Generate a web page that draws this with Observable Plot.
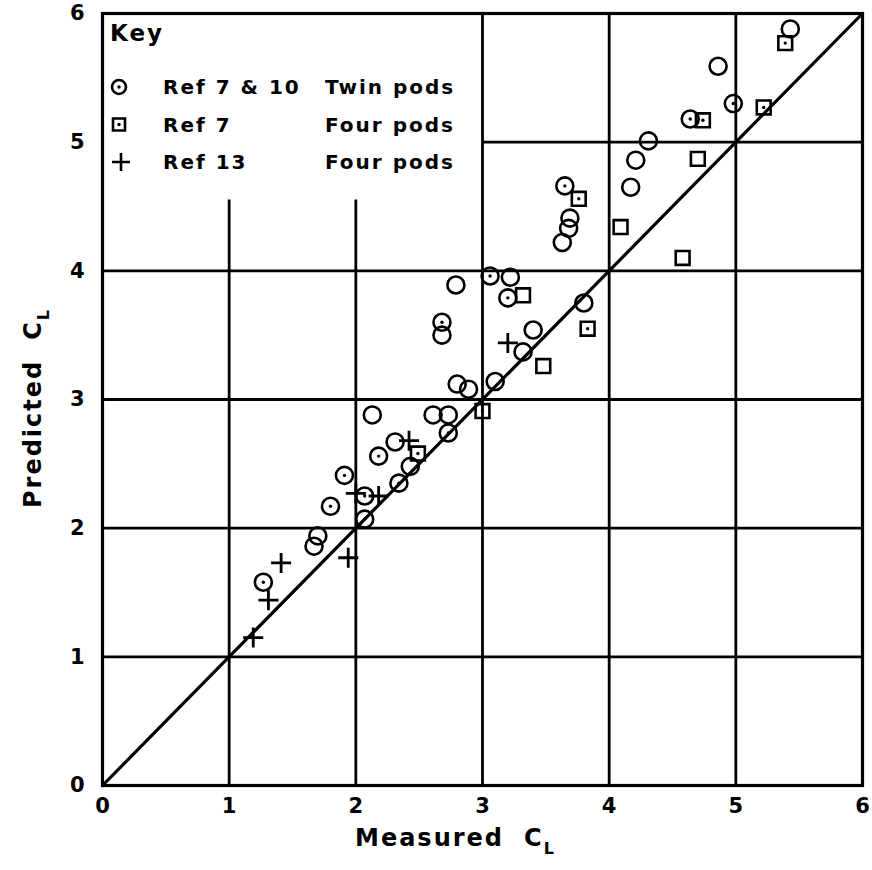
<!DOCTYPE html>
<html><head><meta charset="utf-8">
<script src="https://cdn.jsdelivr.net/npm/d3@7"></script>
<script src="https://cdn.jsdelivr.net/npm/@observablehq/plot@0.6"></script>
<style>
body{margin:0;background:#fff;}
#chart{position:absolute;left:0;top:0;}
</style></head><body><div id="chart"></div>
<script>
// Ref 7 & 10, twin pods (circles); dotted = has centre dot
const circleX = [1.27,1.70,1.67,1.80,1.91,2.07,2.07,2.13,2.18,2.31,2.34,2.43,2.61,2.73,2.73,2.68,2.68,2.79,2.80,2.89,3.10,3.06,3.22,3.20,3.40,3.32,3.80,3.63,3.68,3.69,3.65,4.17,4.21,4.31,4.64,4.86,4.98,5.43];
const circleY = [1.58,1.94,1.86,2.17,2.41,2.07,2.25,2.88,2.56,2.67,2.35,2.48,2.88,2.88,2.74,3.60,3.50,3.89,3.12,3.08,3.14,3.96,3.95,3.79,3.54,3.37,3.75,4.22,4.33,4.41,4.66,4.65,4.86,5.01,5.18,5.59,5.30,5.88];
const circleDotted = [1,0,0,1,1,1,1,0,1,0,1,0,0,0,1,1,0,0,0,0,0,1,0,1,0,0,0,0,0,0,1,0,0,0,1,0,1,0];
// Ref 7, four pods (squares)
const squareX = [2.49,3.00,3.32,3.48,3.83,3.76,4.09,4.58,4.70,4.74,5.22,5.39];
const squareY = [2.58,2.91,3.81,3.26,3.55,4.56,4.34,4.10,4.87,5.17,5.27,5.77];
const squareDotted = [1,1,0,0,1,1,0,0,0,1,1,1];
// Ref 13, four pods (plus)
const plusX = [1.19,1.31,1.41,1.94,2.00,2.18,2.42,3.20];
const plusY = [1.15,1.44,1.73,1.77,2.27,2.25,2.68,3.44];

const tickValues = [0,1,2,3,4,5,6];
const diagonal = [0,6];
const legendSymbols = ["circle","square","plus"];
const legendRefs = ["Ref 7 & 10","Ref 7","Ref 13"];
const legendPods = ["Twin pods","Four pods","Four pods"];
const keyTitle = "Key";
const xLabel = ["Measured","C","L"];
const yLabel = ["Predicted","C","L"];

const circles = circleX.map((x,i)=>({x, y:circleY[i], dot:circleDotted[i]}));
const squares = squareX.map((x,i)=>({x, y:squareY[i], dot:squareDotted[i]}));
const pluses = plusX.map((x,i)=>({x, y:plusY[i]}));
const diag = diagonal.map(v=>({x:v, y:v}));

const SW = 2.8;
const plot = Plot.plot({
  width:872, height:870,
  marginLeft:102, marginRight:10, marginTop:13, marginBottom:85,
  style:{fontFamily:"DejaVu Sans", fontSize:"21px", fontWeight:"bold", color:"#000", background:"#fff", overflow:"visible"},
  x:{domain:[0,6], ticks:tickValues, tickSize:0, tickPadding:13, label:null, tickFormat:d=>String(d)},
  y:{domain:[0,6], ticks:tickValues, tickSize:0, tickPadding:18, label:null, tickFormat:d=>String(d)},
  marks:[
    // grid (cut around the key box)
    Plot.ruleX([1,2], {y1:0, y2:4.55, stroke:"black", strokeWidth:SW}),
    Plot.ruleX([3,4,5], {y1:0, y2:6, stroke:"black", strokeWidth:SW}),
    Plot.ruleY([1,2,3,4], {x1:0, x2:6, stroke:"black", strokeWidth:SW}),
    Plot.ruleY([5], {x1:3, x2:6, stroke:"black", strokeWidth:SW}),
    Plot.line(diag, {x:"x", y:"y", stroke:"black", strokeWidth:3.2}),
    Plot.dot(circles, {x:"x", y:"y", r:8.5, symbol:"circle", stroke:"black", strokeWidth:2.6, fill:"none"}),
    Plot.dot(circles.filter(d=>d.dot), {x:"x", y:"y", r:1.7, fill:"black", stroke:"none"}),
    Plot.dot(squares, {x:"x", y:"y", r:7.8, symbol:"square", stroke:"black", strokeWidth:2.6, fill:"none"}),
    Plot.dot(squares.filter(d=>d.dot), {x:"x", y:"y", r:1.7, fill:"black", stroke:"none"}),
    Plot.dot(pluses, {x:"x", y:"y", r:6.5, symbol:"plus", stroke:"black", strokeWidth:2.8, fill:"none"}),
    Plot.frame({stroke:"black", strokeWidth:3.2})
  ]
});
document.getElementById("chart").appendChild(plot);

const svg = d3.select(plot);
const font = "DejaVu Sans";
// Key
const key = svg.append("g").attr("font-family", font).attr("font-weight","bold").attr("fill","black").attr("text-anchor","start");
key.append("text").attr("x",110).attr("y",33).attr("dy","0.35em").attr("font-size",23).attr("letter-spacing",2).text(keyTitle);
legendSymbols.forEach((s,i)=>{
  const cy = 87 + i*37.5;
  let d;
  if (s==="circle") d = d3.symbol(d3.symbolCircle, Math.PI*7*7)();
  else if (s==="square") d = d3.symbol(d3.symbolSquare, 12*12)();
  else d = "M-9,0H9M0,-9V9";
  key.append("path").attr("transform",`translate(${s==="plus"?121:119},${cy})`)
     .attr("d", d).attr("fill","none").attr("stroke","black").attr("stroke-width",2.6);
  if (s!=="plus") key.append("circle").attr("cx",119).attr("cy",cy).attr("r",1.7).attr("fill","black");
  key.append("text").attr("x",163).attr("y",cy).attr("dy","0.35em").attr("font-size",20).attr("letter-spacing",2).text(legendRefs[i]);
  key.append("text").attr("x",325).attr("y",cy).attr("dy","0.35em").attr("font-size",20).attr("letter-spacing",2).text(legendPods[i]);
});
// axis labels with subscript L
const xl = svg.append("text").attr("font-family",font).attr("font-weight","bold").attr("font-size",24).attr("letter-spacing",2)
  .attr("text-anchor","start").attr("x",355).attr("y",838).attr("dy","0.35em");
xl.append("tspan").text(xLabel[0]);
xl.append("tspan").attr("dx",20).text(xLabel[1]);
xl.append("tspan").attr("dy",8).attr("font-size",16).text(xLabel[2]);
const yl = svg.append("text").attr("font-family",font).attr("font-weight","bold").attr("font-size",24).attr("letter-spacing",2)
  .attr("transform","translate(33,408) rotate(-90)").attr("text-anchor","middle").attr("dy","0.35em");
yl.append("tspan").text(yLabel[0]);
yl.append("tspan").attr("dx",20).text(yLabel[1]);
yl.append("tspan").attr("dy",8).attr("font-size",16).text(yLabel[2]);
</script></body></html>
